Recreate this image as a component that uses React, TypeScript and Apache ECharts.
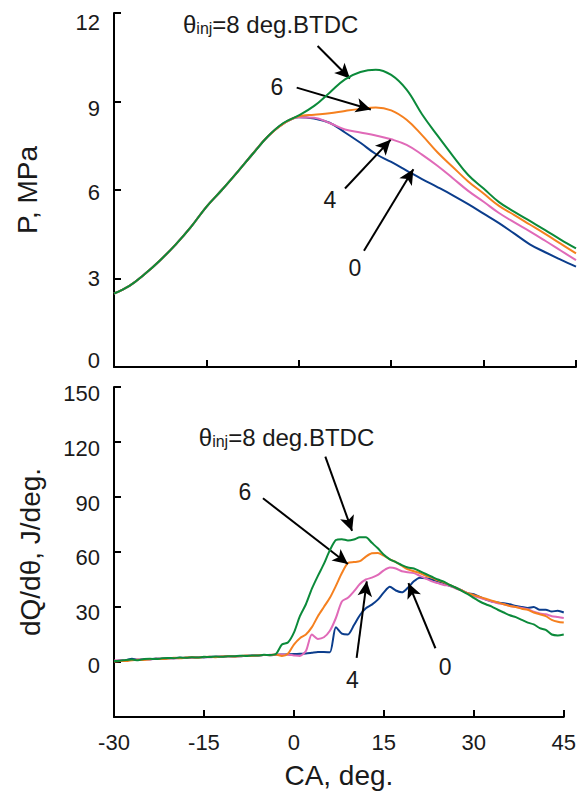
import React, { useEffect, useRef } from "react";
import * as echarts from "echarts";

const FONT = '"Liberation Sans", Arial, Helvetica, sans-serif';
const TXT = "#1a1a1a";

// Crank angle grids
const caP = [-30, -27.5, -25, -22.5, -20, -17.5, -15, -12.5, -10, -7.5, -5, -2.5, 0, 2.5, 5, 7.5, 10, 12.5, 15, 17.5, 20, 22.5, 25, 27.5, 30, 32.5, 35, 37.5, 40, 42.5, 45];
const caQ = [-30, -29, -28, -27, -26, -25, -24, -23, -22, -21, -20, -19, -18, -17, -16, -15, -14, -13, -12, -11, -10, -9, -8, -7, -6, -5, -4, -3, -2, -1, 0, 1, 2, 3, 4, 5, 6, 7, 8, 9, 10, 11, 12, 13, 14, 15, 16, 17, 18, 19, 20, 21, 22, 23, 24, 25, 26, 27, 28, 29, 30, 31, 32, 33, 34, 35, 36, 37, 38, 39, 40, 41, 42, 43, 44, 45];

// Cylinder pressure, MPa
const pInj0 = [2.49, 2.75, 3.15, 3.62, 4.15, 4.75, 5.43, 6.0, 6.6, 7.22, 7.82, 8.25, 8.47, 8.42, 8.28, 7.95, 7.6, 7.22, 6.95, 6.66, 6.37, 6.1, 5.82, 5.52, 5.2, 4.88, 4.52, 4.16, 3.89, 3.64, 3.4];
const pInj4 = [2.49, 2.75, 3.15, 3.62, 4.15, 4.75, 5.43, 6.0, 6.6, 7.22, 7.82, 8.25, 8.47, 8.45, 8.27, 8.05, 7.95, 7.85, 7.72, 7.53, 7.2, 6.82, 6.4, 5.97, 5.6, 5.22, 4.9, 4.6, 4.28, 3.95, 3.62];
const pInj6 = [2.49, 2.75, 3.15, 3.62, 4.15, 4.75, 5.43, 6.0, 6.6, 7.22, 7.82, 8.25, 8.5, 8.55, 8.6, 8.68, 8.75, 8.8, 8.7, 8.38, 7.86, 7.28, 6.78, 6.29, 5.88, 5.46, 5.15, 4.83, 4.51, 4.18, 3.85];
const pInj8 = [2.49, 2.75, 3.15, 3.62, 4.15, 4.75, 5.43, 6.0, 6.6, 7.22, 7.82, 8.27, 8.53, 8.85, 9.3, 9.75, 10.0, 10.08, 9.9, 9.4, 8.57, 7.85, 7.16, 6.51, 6.05, 5.59, 5.26, 4.95, 4.64, 4.32, 4.02];

// Heat release rate, J/deg.
const qInj0 = [0.3, 0.8, 1.0, 1.8, 1.2, 1.4, 1.5, 1.9, 1.7, 2.0, 2.2, 2.3, 2.2, 2.5, 2.6, 2.5, 2.8, 2.9, 2.8, 3.1, 3.2, 3.1, 3.4, 3.5, 3.6, 3.8, 3.7, 4.0, 4.1, 4.2, 4.3, 4.5, 4.6, 5.0, 5.4, 5.5, 5.3, 19, 15.5, 15, 20, 25.5, 29.3, 31.3, 34, 38, 41, 39, 38, 40.5, 44, 46, 45.7, 45, 44, 43, 41.5, 40.5, 39, 37.5, 37, 35.5, 34, 33, 32.5, 32, 31.5, 30.5, 30, 29.5, 30, 28.5, 28.5, 27.5, 28, 27];
const qInj4 = [0.8, 1.0, 0.9, 1.1, 1.3, 1.5, 1.4, 1.7, 1.9, 2.1, 1.9, 2.2, 2.4, 2.3, 2.6, 2.7, 2.6, 2.9, 3.0, 3.1, 3.0, 3.2, 3.3, 3.5, 3.6, 3.8, 3.9, 4.0, 4.1, 4.0, 3.6, 3.3, 6.0, 15, 12.6, 13.5, 17, 24, 33, 35, 38.5, 42.5, 45, 46, 47.5, 50, 51.5, 51, 49.5, 49, 48.5, 47, 45.5, 44, 43, 42, 41.5, 40, 39, 37.5, 36, 35, 34, 33, 32, 31.5, 30.5, 30, 29.5, 28.8, 27.5, 26.5, 26, 25, 24.5, 24];
const qInj6 = [0.2, 0.6, 0.5, 1.0, 1.2, 1.1, 1.5, 1.8, 1.6, 1.9, 2.3, 2.0, 2.4, 2.6, 2.3, 2.7, 2.9, 2.6, 3.0, 3.2, 3.0, 3.3, 3.5, 3.3, 3.6, 3.8, 3.7, 4.1, 3.3, 4.5, 9.5, 13, 15, 19, 25, 30, 35, 41.5, 48.5, 54, 54.5, 55, 57.5, 59.3, 59.5, 58, 56, 54.5, 52.5, 50.5, 49.5, 48.5, 47, 46, 44.5, 43.5, 42, 40.5, 39, 37.5, 36.5, 35.5, 34.5, 33.5, 32.5, 31.5, 30.5, 30, 29, 28.5, 27, 26, 25, 23, 22, 21.5];
const qInj8 = [0.5, 0.7, 1.1, 1.3, 1.0, 1.6, 1.8, 1.6, 2.0, 2.2, 2.1, 2.4, 2.3, 2.6, 2.4, 2.8, 2.7, 3.0, 2.8, 3.2, 3.1, 3.4, 3.3, 3.6, 3.5, 3.9, 3.8, 4.3, 9.5, 10.6, 16, 25, 31.5, 40, 47, 53.5, 61, 66.5, 67, 66.3, 66.8, 68, 68, 65, 62, 58.5, 56, 54.5, 52.8, 51.5, 51, 49.5, 48, 46.5, 45, 43.8, 42, 40.5, 38.8, 37, 35, 33, 31.5, 30.2, 28.5, 27, 25.5, 24.5, 23, 21.5, 20.5, 18.5, 17.5, 15, 14.5, 15];

const seriesNames = ["0", "4", "6", "8"];
const seriesColors = ["#0b3d8c", "#e06ab8", "#f5801f", "#0b8a3a"];
const pSeries = [pInj0, pInj4, pInj6, pInj8];
const qSeries = [qInj0, qInj4, qInj6, qInj8];

const xTicks = { min: -30, max: 45, interval: 15 };
const pTicks = { min: 0, max: 12, interval: 3 };
const qTicks = { min: -30, max: 150, interval: 30 };
// vertical label nudges (px, positive = down) as in the reference
const pLabelShift: Record<string, number> = { "12": 9, "9": 7, "6": 2, "3": 0, "0": -7 };
const qLabelShift: Record<string, number> = { "150": 6, "120": 6, "90": 6, "60": 5, "30": 5, "0": 3 };

// Annotations in data coordinates: [x1, y1, x2, y2]
const topArrows = [
  [3.05, 10.88, 8.3, 9.78],
  [-0.34, 9.47, 11.7, 8.73],
  [7.5, 6.05, 14.9, 7.7],
  [10.58, 3.94, 18.6, 6.7],
];
const bottomArrows = [
  [5.24, 112, 9.7, 71.5],
  [-5.16, 89.3, 9.0, 53.5],
  [10.46, 2.2, 12.15, 44],
  [23.6, 7.5, 19.1, 43],
];
const topLabels: [string, number, number][] = [
  ["6", -3.54, 9.48],
  ["4", 5.06, 5.67],
  ["0", 9.12, 3.36],
];
const bottomLabels: [string, number, number][] = [
  ["6", -8.18, 92.9],
  ["4", 9.74, -9.8],
  ["0", 25.2, -2.5],
];
const topTitlePos = [-18.8, 11.6];
const bottomTitlePos = [-15.86, 122.5];

function shiftedLabels(shift: Record<string, number>, hideNegative: boolean) {
  const rich: Record<string, any> = {};
  Object.keys(shift).forEach((k) => {
    const d = shift[k];
    rich["v" + k] = {
      fontSize: 22,
      fontFamily: FONT,
      color: TXT,
      padding: d >= 0 ? [2 * d, 0, 0, 0] : [0, 0, -2 * d, 0],
    };
  });
  return {
    show: true,
    fontSize: 22,
    color: TXT,
    fontFamily: FONT,
    margin: 14,
    rich,
    formatter: (v: number) => {
      if (hideNegative && v < 0) return "";
      const k = String(v);
      return shift[k] !== undefined ? "{v" + k + "|" + k + "}" : k;
    },
  };
}

function axisCommon(showLabel: boolean) {
  return {
    axisLine: { show: true, onZero: false, lineStyle: { color: "#000", width: 2 } },
    axisTick: { show: true, inside: true, length: 7, lineStyle: { color: "#000", width: 2 } },
    splitLine: { show: false },
    axisLabel: { show: showLabel, fontSize: 22, color: TXT, fontFamily: FONT, margin: 14 },
  };
}

export default function App() {
  const ref = useRef<HTMLDivElement>(null);
  useEffect(() => {
    if (!ref.current) return;
    const chart = echarts.init(ref.current, undefined, { renderer: "svg" });
    const arrowMark = (arrows: number[][]) => ({
      silent: true,
      symbol: ["none", "arrow"],
      symbolSize: [11, 15],
      lineStyle: { color: "#000", width: 2, type: "solid" },
      label: { show: false },
      emphasis: { disabled: true },
      data: arrows.map((a) => [{ coord: [a[0], a[1]] }, { coord: [a[2], a[3]] }]),
    });
    const series: any[] = [];
    pSeries.forEach((vals, i) => {
      series.push({
        type: "line",
        name: "P " + seriesNames[i],
        xAxisIndex: 0,
        yAxisIndex: 0,
        data: caP.map((c, k) => [c, vals[k]]),
        showSymbol: false,
        symbol: "none",
        smooth: 0.4,
        lineStyle: { color: seriesColors[i], width: 2 },
        itemStyle: { color: seriesColors[i] },
        z: 2 + i,
        ...(i === 0 ? { markLine: arrowMark(topArrows) } : {}),
      });
    });
    qSeries.forEach((vals, i) => {
      series.push({
        type: "line",
        name: "Q " + seriesNames[i],
        xAxisIndex: 1,
        yAxisIndex: 1,
        data: caQ.map((c, k) => [c, vals[k]]),
        showSymbol: false,
        symbol: "none",
        smooth: 0.25,
        lineStyle: { color: seriesColors[i], width: 2 },
        itemStyle: { color: seriesColors[i] },
        z: 2 + i,
        ...(i === 0 ? { markLine: arrowMark(bottomArrows) } : {}),
      });
    });

    chart.setOption({
      animation: false,
      backgroundColor: "#fff",
      textStyle: { fontFamily: FONT },
      grid: [
        { left: 114, top: 13, width: 462, height: 354 },
        { left: 114, top: 387, width: 456, height: 330 },
      ],
      xAxis: [
        { type: "value", gridIndex: 0, ...xTicks, ...axisCommon(false) },
        {
          type: "value",
          gridIndex: 1,
          ...xTicks,
          ...axisCommon(true),
          name: "CA, deg.",
          nameLocation: "middle",
          nameGap: 44,
          nameTextStyle: { fontSize: 28, color: TXT, fontFamily: FONT },
        },
      ],
      yAxis: [
        {
          type: "value",
          gridIndex: 0,
          ...pTicks,
          ...axisCommon(true),
          axisLabel: shiftedLabels(pLabelShift, false),
          name: "P, MPa",
          nameLocation: "middle",
          nameGap: 73,
          nameTextStyle: { fontSize: 28, color: TXT, fontFamily: FONT },
        },
        {
          type: "value",
          gridIndex: 1,
          ...qTicks,
          ...axisCommon(true),
          axisLabel: shiftedLabels(qLabelShift, true),
          name: "dQ/dθ, J/deg.",
          nameLocation: "middle",
          nameGap: 70,
          nameTextStyle: { fontSize: 28, color: TXT, fontFamily: FONT },
        },
      ],
      series,
    });

    const toPx = (g: number, x: number, y: number) =>
      chart.convertToPixel({ gridIndex: g } as any, [x, y]) as number[];
    const graphics: any[] = [];
    const addTitle = (g: number, pos: number[]) => {
      const p = toPx(g, pos[0], pos[1]);
      graphics.push({
        type: "text",
        x: p[0],
        y: p[1],
        z: 100,
        style: {
          text: "{a|θ}{b|inj}{a|=8 deg.BTDC}",
          align: "left",
          verticalAlign: "middle",
          rich: {
            a: { fontSize: 24, fontFamily: FONT, fill: TXT },
            b: { fontSize: 16, fontFamily: FONT, fill: TXT, verticalAlign: "bottom", padding: [8, 0, 0, 0] },
          },
        },
      });
    };
    const addLabels = (g: number, labels: [string, number, number][]) => {
      labels.forEach(([t, x, y]) => {
        const p = toPx(g, x, y);
        graphics.push({
          type: "text",
          x: p[0],
          y: p[1],
          z: 100,
          style: { text: t, fontSize: 23, fontFamily: FONT, fill: TXT, align: "center", verticalAlign: "middle" },
        });
      });
    };
    addTitle(0, topTitlePos);
    addTitle(1, bottomTitlePos);
    addLabels(0, topLabels);
    addLabels(1, bottomLabels);
    chart.setOption({ graphic: graphics });

    return () => chart.dispose();
  }, []);
  return <div ref={ref} style={{ position: "absolute", left: 0, top: 0, width: 579, height: 800 }} />;
}
